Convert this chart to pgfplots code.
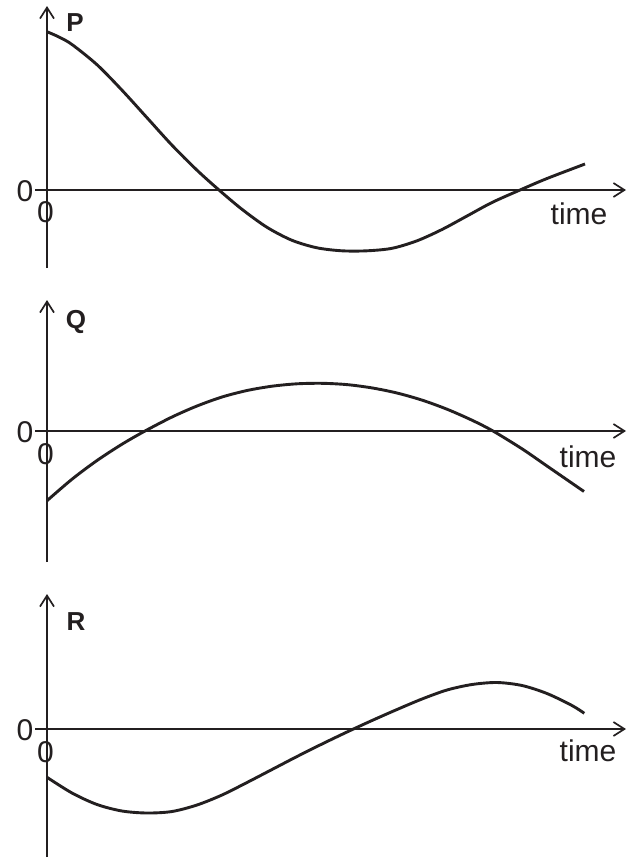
\documentclass[border=0pt]{standalone}
\usepackage{pgfplots}
\pgfplotsset{compat=1.18}
\usetikzlibrary{arrows.meta}
\usepackage{fontspec}
\setmainfont{Liberation Sans}

\definecolor{ink}{RGB}{35,31,32}

% one unit = one pixel of the reference (0.5pt)
\pgfplotsset{
  wave/.style={
    x=0.5pt, y=0.5pt,
    axis lines=middle,
    axis line style={ink, line width=0.85pt, -{Straight Barb[length=5.5pt,width=7pt]}},
    xmin=-12, xmax=579,
    enlargelimits=false,
    xtick=\empty, ytick=\empty,
    clip=false,
    anchor=origin,
  },
  curve/.style={ink, line width=1.45pt, smooth, no marks},
}
\tikzset{
  lbl/.style={ink, font=\fontsize{15}{18}\selectfont, inner sep=0pt},
  blbl/.style={ink, font=\fontsize{13}{16}\selectfont\bfseries, inner sep=0pt},
}

\begin{document}
\begin{tikzpicture}
\useasboundingbox (0,0) rectangle (315.5pt,-429pt);

% P
\begin{axis}[wave, ymin=-78, ymax=184, at={(23.5pt,-95pt)}]
  \addplot[curve] coordinates {(0,158.3) (12,153) (25,145.5) (50,125.3) (75,99.8)
    (100,72.3) (125,44.8) (150,19.8) (172,0) (195,-19.3) (220,-37.3)
    (245,-50.3) (270,-57.8) (295,-60.8) (320,-60.8) (345,-58.3) (370,-50.8)
    (395,-39.5) (420,-26) (445,-12.5) (473,0) (500,11.5) (538,26)};
  \node[blbl] at (axis cs:28,167) {P};
  \node[lbl] at (axis cs:-22,-1) {0};
  \node[lbl] at (axis cs:-1.5,-22.5) {0};
  \node[lbl] at (axis cs:532,-24) {time};
\end{axis}

% Q
\begin{axis}[wave, ymin=-131, ymax=131, at={(23.5pt,-215.5pt)}]
  \addplot[curve] coordinates {(0,-69.7) (25,-48.2) (50,-29.5) (75,-13.2)
    (98,0) (125,14) (150,25) (175,34) (200,40.5) (225,44.8) (250,47.2)
    (275,47.7) (300,46.4) (325,43.1) (350,38) (375,30.9) (400,21.8)
    (425,10.8) (446,0) (475,-17.8) (500,-35) (537,-60.5)};
  \node[blbl] at (axis cs:29,109) {Q};
  \node[lbl] at (axis cs:-22,-1) {0};
  \node[lbl] at (axis cs:-1.5,-23) {0};
  \node[lbl] at (axis cs:541,-25.5) {time};
\end{axis}

% R
\begin{axis}[wave, ymin=-128, ymax=135, at={(23.5pt,-364.5pt)}]
  \addplot[curve] coordinates {(0,-48.3) (25,-64) (50,-75.5) (75,-82)
    (100,-84) (125,-82.5) (150,-76) (175,-66) (200,-53.5) (225,-40.5)
    (250,-27.5) (275,-15) (300,-3) (325,8.5) (350,19.5) (375,30) (400,39)
    (425,44.5) (450,46.5) (475,43.5) (500,35.5) (525,23.5) (537.3,15.7)};
  \node[blbl] at (axis cs:29,107.5) {R};
  \node[lbl] at (axis cs:-22,-1) {0};
  \node[lbl] at (axis cs:-1.5,-23) {0};
  \node[lbl] at (axis cs:541,-21.5) {time};
\end{axis}
\end{tikzpicture}
\end{document}
